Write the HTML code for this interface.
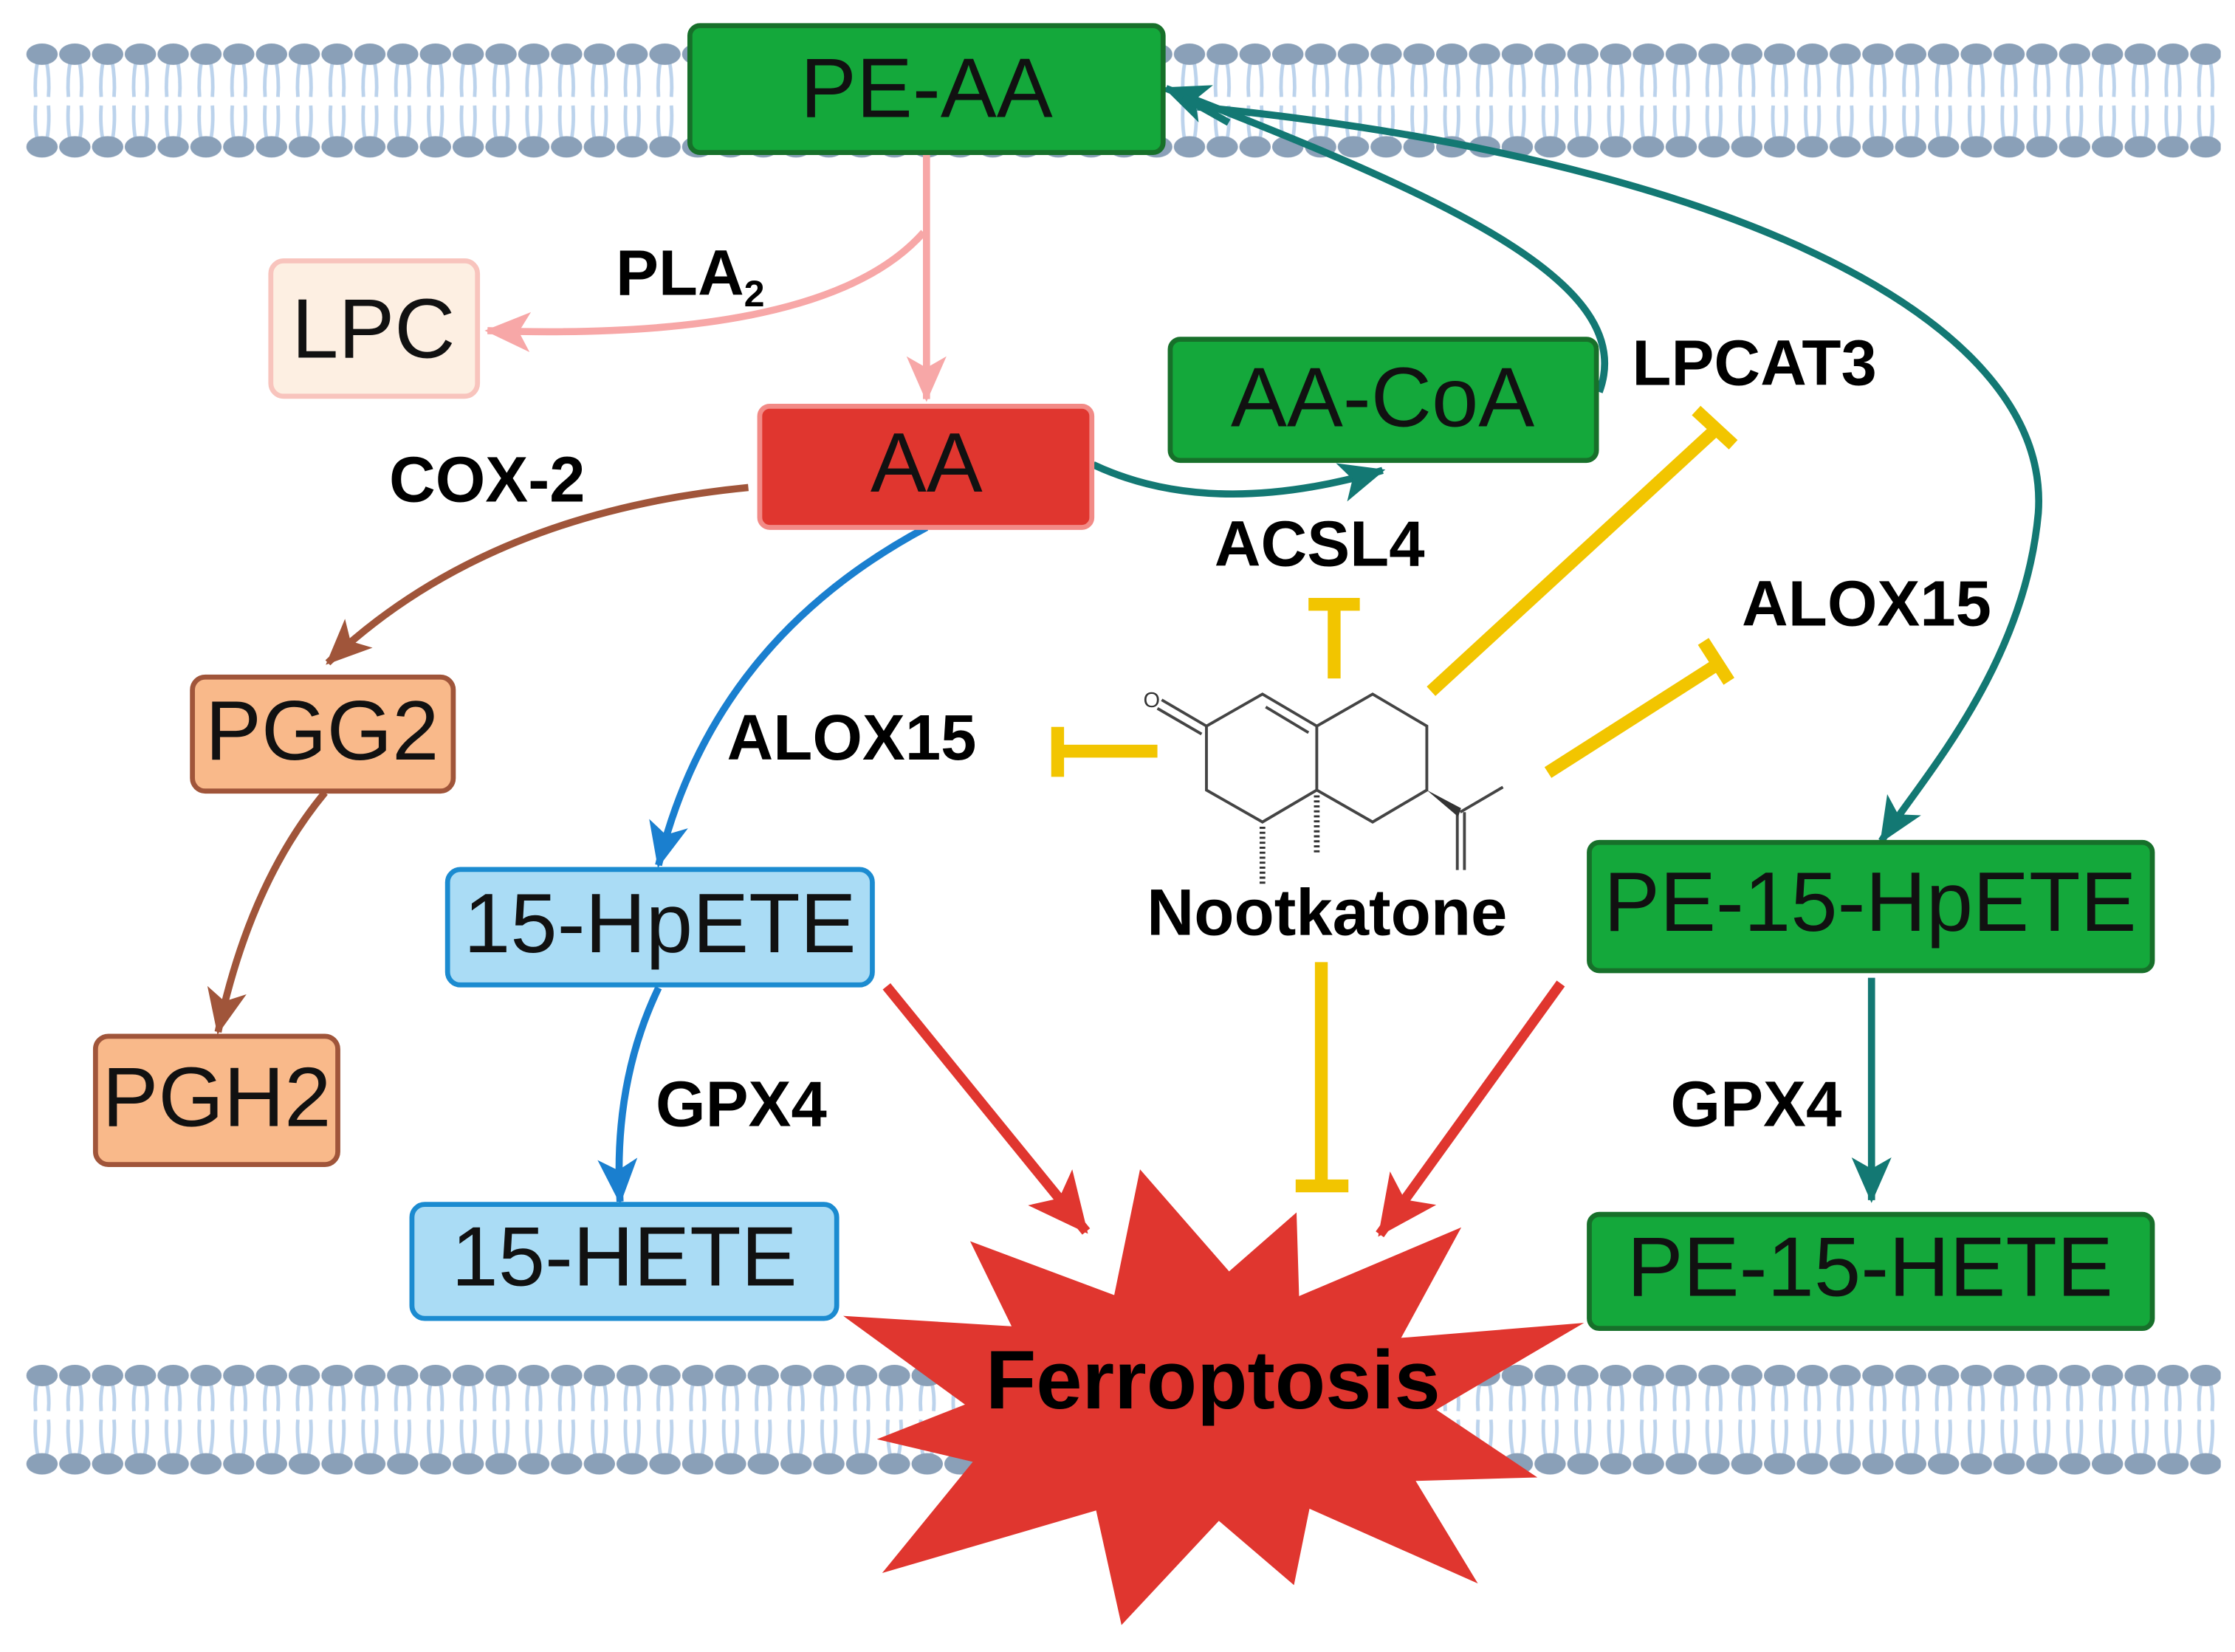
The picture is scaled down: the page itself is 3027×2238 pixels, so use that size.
<!DOCTYPE html>
<html><head><meta charset="utf-8"><style>
html,body{margin:0;padding:0;background:#fff;}
svg{display:block;}
text{font-family:"Liberation Sans",Arial,sans-serif;}
</style></head><body>
<svg width="3027" height="2238" viewBox="0 0 1568 1159" preserveAspectRatio="none" xmlns="http://www.w3.org/2000/svg">
<defs>
<pattern id="memT" x="18" y="30" width="23" height="200" patternUnits="userSpaceOnUse">
  <path d="M8.5,12 Q6,25 7,38 M14.5,12 Q17,25 16,38 M7,44 Q6,58 8.5,70 M16,44 Q17,58 14.5,70" stroke="#bcd3ec" stroke-width="2.5" fill="none"/>
  <ellipse cx="11.5" cy="8" rx="11" ry="7.5" fill="#8aa0b8"/>
  <ellipse cx="11.5" cy="73" rx="11" ry="7.5" fill="#8aa0b8"/>
</pattern>
<pattern id="memB" x="18" y="957" width="23" height="200" patternUnits="userSpaceOnUse">
  <path d="M8.5,12 Q6,22 7,33 M14.5,12 Q17,22 16,33 M7,39 Q6,50 8.5,64 M16,39 Q17,50 14.5,64" stroke="#bcd3ec" stroke-width="2.5" fill="none"/>
  <ellipse cx="11.5" cy="8" rx="11" ry="7.5" fill="#8aa0b8"/>
  <ellipse cx="11.5" cy="70" rx="11" ry="7.5" fill="#8aa0b8"/>
</pattern>
<marker id="mPink" markerUnits="userSpaceOnUse" markerWidth="34" markerHeight="34" refX="30" refY="17" orient="auto"><path d="M0,3 L32,17 L0,31 L8,17 Z" fill="#f7a7a7"/></marker>
<marker id="mTeal" markerUnits="userSpaceOnUse" markerWidth="34" markerHeight="34" refX="30" refY="17" orient="auto"><path d="M0,3 L32,17 L0,31 L8,17 Z" fill="#137873"/></marker>
<marker id="mBrown" markerUnits="userSpaceOnUse" markerWidth="34" markerHeight="34" refX="30" refY="17" orient="auto"><path d="M0,3 L32,17 L0,31 L8,17 Z" fill="#a0553a"/></marker>
<marker id="mBlue" markerUnits="userSpaceOnUse" markerWidth="34" markerHeight="34" refX="30" refY="17" orient="auto"><path d="M0,3 L32,17 L0,31 L8,17 Z" fill="#1a7fcf"/></marker>
<marker id="mRed" markerUnits="userSpaceOnUse" markerWidth="44" markerHeight="44" refX="40" refY="22" orient="auto"><path d="M0,2 L42,22 L0,42 L10,22 Z" fill="#e0362f"/></marker>
</defs>

<rect x="18" y="30" width="1540" height="82" fill="url(#memT)"/>
<rect x="18" y="957" width="1540" height="78" fill="url(#memB)"/>

<path d="M650,108 L650,280" stroke="#f7a7a7" stroke-width="5" fill="none" marker-end="url(#mPink)"/>
<path d="M648,163 Q580,240 342,232" stroke="#f7a7a7" stroke-width="5" fill="none" marker-end="url(#mPink)"/>

<path d="M767,326 Q850,365 970,330" stroke="#137873" stroke-width="5" fill="none" marker-end="url(#mTeal)"/>
<path d="M1122,275 C1150,200 1020,140 818,62" stroke="#137873" stroke-width="5" fill="none" marker-end="url(#mTeal)"/>
<path d="M840,75 C1200,110 1440,220 1430,360 C1420,470 1345,550 1320,590" stroke="#137873" stroke-width="5" fill="none" marker-end="url(#mTeal)"/>
<path d="M830,68 L862,86" stroke="#137873" stroke-width="5"/>
<path d="M1313,686 L1313,842" stroke="#137873" stroke-width="5" fill="none" marker-end="url(#mTeal)"/>

<path d="M525,342 Q340,360 230,465" stroke="#a0553a" stroke-width="5" fill="none" marker-end="url(#mBrown)"/>
<path d="M228,556 Q175,620 153,724" stroke="#a0553a" stroke-width="5" fill="none" marker-end="url(#mBrown)"/>

<path d="M650,370 Q500,450 462,607" stroke="#1a7fcf" stroke-width="5" fill="none" marker-end="url(#mBlue)"/>
<path d="M462,693 Q430,760 435,843" stroke="#1a7fcf" stroke-width="5" fill="none" marker-end="url(#mBlue)"/>

<polygon points="799.8,820.4 862.3,892 909.6,850.6 911.4,909.3 1025.2,861.1 983,938.6 1111.3,928.1 1007.7,989 1078.6,1036.5 993.2,1039 1036.8,1110.9 918.7,1058.5 907.8,1112.1 855.1,1067 786.8,1140.1 769,1059.7 618.9,1103.6 682.5,1025.6 615.2,1009.7 677,985.4 591.6,923.2 709.7,930.5 680.6,870.8 781.7,908.6" fill="#e0362f"/>
<text x="851" y="988" font-size="58" font-weight="bold" text-anchor="middle" fill="#000">Ferroptosis</text>

<path d="M622,692 L762,864" stroke="#e0362f" stroke-width="7" fill="none" marker-end="url(#mRed)"/>
<path d="M1095,690 L968,866" stroke="#e0362f" stroke-width="7" fill="none" marker-end="url(#mRed)"/>

<g stroke="#f2c500" stroke-width="9" fill="none">
<path d="M927,675 L927,832 M909,832 L946,832"/>
<path d="M936,476 L936,425 M918,424 L954,424"/>
<path d="M1004,485 L1203,302 M1190,288 L1216,312"/>
<path d="M1086,542 L1205,466 M1195,450 L1213,478"/>
<path d="M812,527 L745,527 M742,510 L742,545"/>
</g>

<g stroke="#444" stroke-width="2" fill="none">
<path d="M846.4,509.4 L885.7,487 L923.8,509.4 L923.8,554.3 L885.7,576.7 L846.4,554.3 Z"/>
<path d="M923.8,509.4 L963,487 L1001,509.4 L1001,554.3 L963,576.7 L923.8,554.3"/>
<path d="M888,496 L918,514"/>
<path d="M846.4,509.4 L815,491 M843,515 L812,497"/>
<path d="M1024.4,569.8 L1054.4,552.2 M1022.4,569.8 L1022.4,610.4 M1027.4,569.8 L1027.4,610.4"/>
</g>
<polygon points="1001,554.3 1025,567 1023,573" fill="#333"/>
<path d="M885.7,580 L885.7,622 M923.8,558 L923.8,598" stroke="#333" stroke-width="4" stroke-dasharray="1.5,2" fill="none"/>
<text x="808" y="496" font-size="15" text-anchor="middle" fill="#333">O</text>
<text x="931" y="656" font-size="46" font-weight="bold" text-anchor="middle">Nootkatone</text>

<g stroke-width="3.5">
<rect x="484" y="18" width="332" height="89" rx="7" fill="#14a83b" stroke="#17702a"/>
<rect x="190" y="183" width="145" height="95" rx="9" fill="#fdefe2" stroke="#f8c4bd"/>
<rect x="533" y="285" width="233" height="85" rx="7" fill="#e0362f" stroke="#f28a86"/>
<rect x="821" y="238" width="299" height="85" rx="7" fill="#14a83b" stroke="#17702a"/>
<rect x="135" y="475" width="183" height="80" rx="9" fill="#f9b98a" stroke="#a0553a"/>
<rect x="67" y="727" width="170" height="90" rx="9" fill="#f9b98a" stroke="#a0553a"/>
<rect x="314" y="610" width="298" height="81" rx="9" fill="#aadcf5" stroke="#1b8bd0"/>
<rect x="289" y="845" width="298" height="80" rx="9" fill="#aadcf5" stroke="#1b8bd0"/>
<rect x="1115" y="591" width="395" height="90" rx="7" fill="#14a83b" stroke="#17702a"/>
<rect x="1115" y="852" width="395" height="80" rx="7" fill="#14a83b" stroke="#17702a"/>
</g>
<g font-size="59" text-anchor="middle" fill="#111">
<text x="650" y="82">PE-AA</text>
<text x="262" y="251">LPC</text>
<text x="650" y="345">AA</text>
<text x="970" y="299">AA-CoA</text>
<text x="226" y="533">PGG2</text>
<text x="152" y="790">PGH2</text>
<text x="463" y="668">15-HpETE</text>
<text x="438" y="902">15-HETE</text>
<text x="1312" y="653">PE-15-HpETE</text>
<text x="1312" y="909">PE-15-HETE</text>
</g>

<g font-size="45" font-weight="bold" fill="#000">
<text x="432" y="207">PLA<tspan font-size="26" dy="8">2</tspan></text>
<text x="273" y="352">COX-2</text>
<text x="852" y="397">ACSL4</text>
<text x="1145" y="270">LPCAT3</text>
<text x="1222" y="439">ALOX15</text>
<text x="510" y="533">ALOX15</text>
<text x="460" y="790">GPX4</text>
<text x="1172" y="790">GPX4</text>
</g>
</svg>
</body></html>
